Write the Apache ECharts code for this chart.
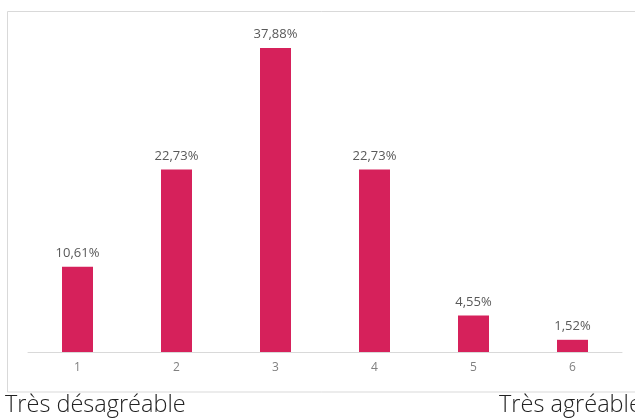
<!DOCTYPE html>
<html>
<head>
<meta charset="utf-8">
<script src="https://cdn.jsdelivr.net/npm/echarts@6/dist/echarts.min.js"></script>
<style>
html,body{margin:0;padding:0;background:#fff;}
#c{width:635px;height:419px;}
</style>
</head>
<body>
<div id="c"></div>
<script>
const categories = ['1', '2', '3', '4', '5', '6'];
const values = [10.61, 22.73, 37.88, 22.73, 4.55, 1.52];
const leftCaption = 'Très désagréable';
const rightCaption = 'Très agréable';

const chart = echarts.init(document.getElementById('c'), null, {renderer: 'canvas'});
chart.setOption({
  animation: false,
  backgroundColor: '#ffffff',
  grid: {left: 28, right: 13, top: 31, bottom: 67},
  xAxis: {
    type: 'category',
    data: categories,
    axisLine: {lineStyle: {color: '#d9d9d9', width: 1}},
    axisTick: {show: false},
    axisLabel: {color: '#808080', fontSize: 12, fontFamily: 'Open Sans', margin: 10}
  },
  yAxis: {
    type: 'value', min: 0, max: 40, show: false,
    splitLine: {show: false}
  },
  series: [{
    type: 'bar',
    data: values,
    barWidth: 31,
    itemStyle: {color: '#d6215b'},
    label: {
      show: true, position: 'top', distance: 7,
      color: '#595959', fontSize: 13, fontFamily: 'Open Sans',
      formatter: p => p.value.toFixed(2).replace('.', ',') + '%'
    }
  }],
  graphic: [
    {type: 'rect', shape: {x: 7.5, y: 11.5, width: 640, height: 380.5},
     style: {fill: 'none', stroke: '#d9d9d9', lineWidth: 1}, silent: true, z: -1},
    {type: 'text', left: 5, top: 393,
     style: {text: leftCaption, fill: '#222222', font: '300 23.5px "Open Sans"'}},
    {type: 'text', left: 499, top: 393,
     style: {text: rightCaption, fill: '#222222', font: '300 23.5px "Open Sans"'}}
  ]
});
</script>
</body>
</html>
